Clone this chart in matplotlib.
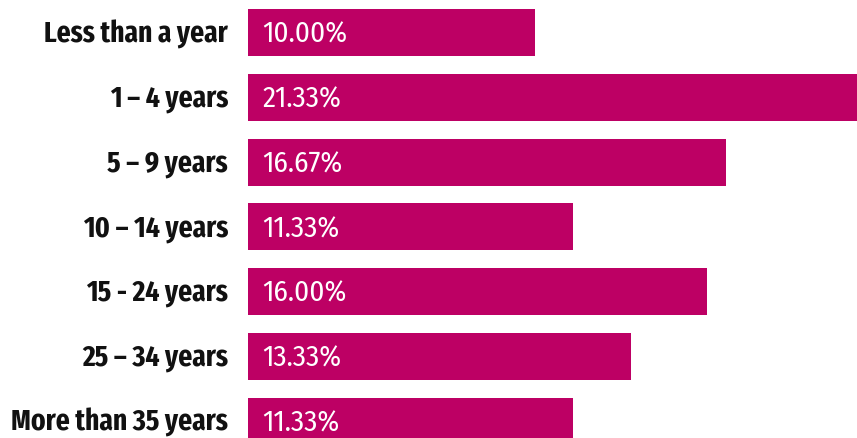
import matplotlib
matplotlib.use("Agg")
from matplotlib import pyplot as plt

# categories top to bottom, and share of respondents (%)
categories = ["Less than a year", "1 \u2013 4 years", "5 \u2013 9 years", "10 \u2013 14 years",
              "15 - 24 years", "25 \u2013 34 years", "More than 35 years"]
shares = [10.00, 21.33, 16.67, 11.33, 16.00, 13.33, 11.33]

bar_color = "#BD0064"
label_font = ["Fira Sans Extra Condensed", "DejaVu Sans"]
value_font = ["Fira Sans Condensed", "DejaVu Sans"]

fig = plt.figure(figsize=(8.57, 4.39), dpi=100)
ax = fig.add_axes([248 / 857, 0, 1 - 248 / 857, 1])

ypos = list(range(len(categories)))
ax.barh(ypos, shares, height=0.725, color=bar_color)

for y, cat, val in zip(ypos, categories, shares):
    ax.text(-0.7, y - 0.04, cat, ha="right", va="center_baseline", fontsize=21.5, fontweight="bold",
            family=label_font, color="#111111", clip_on=False)
    ax.text(0.5, y - 0.03, f"{val:.2f}%", ha="left", va="center_baseline", fontsize=21,
            family=value_font, color="white")

ax.set_xlim(0, 21.22)
ax.set_ylim(6.258, -0.517)
ax.axis("off")

plt.savefig("out.png", dpi=100)
